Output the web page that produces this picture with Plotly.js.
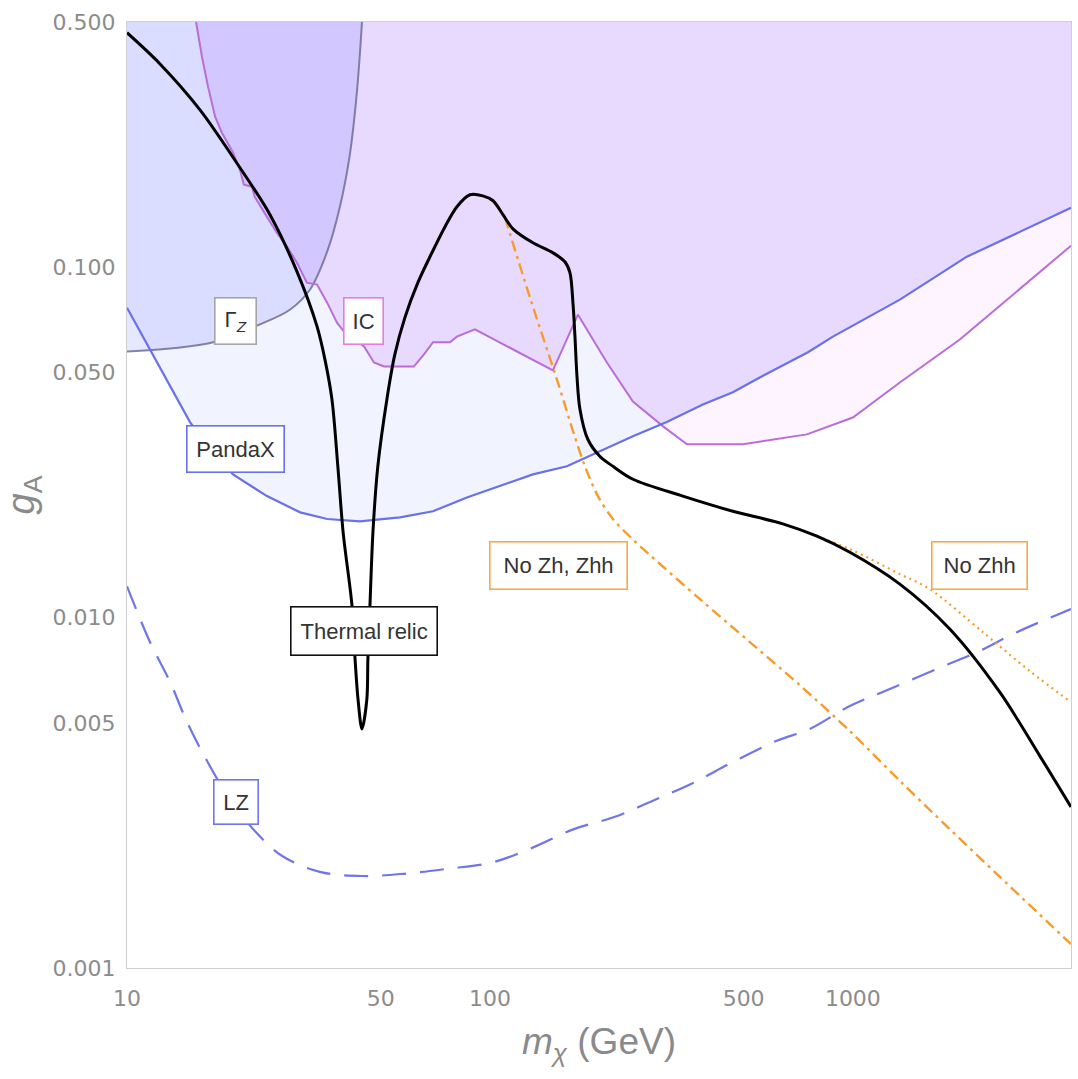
<!DOCTYPE html>
<html>
<head>
<meta charset="utf-8">
<script src="https://cdn.plot.ly/plotly-3.0.1.min.js"></script>
<style>
  html, body { margin: 0; padding: 0; background: #ffffff; }
  #chart { width: 1078px; height: 1079px; }
</style>
</head>
<body>
<div id="chart"></div>
<script>
// Dark-matter mass m_chi (GeV) and axial coupling g_A for each curve.

// Thermal relic abundance curve
const relicMass = [10, 12.33, 15.89, 20.48, 24.77, 29.4, 33.4, 35.1, 36.7, 38.1, 39.4, 41.7, 42.5, 43.3, 44.4,
  45.8, 46.1, 46.7, 47.6, 49.1, 52.0, 54.7, 58.3, 63.3, 69.2, 75.2, 81.1, 88.1, 95.6, 102, 108.6, 115.7, 131.4, 149.1, 160.9, 166.1, 169.3,
  171.5, 173.7, 177, 186.2, 201, 218.2, 247.7, 340, 467, 641, 796, 981, 1347, 1849, 2540, 3273, 3990];
const relicCoupling = [0.466, 0.3796, 0.2807, 0.1919, 0.1410, 0.0970, 0.0676, 0.0545, 0.0419, 0.0270, 0.0175, 0.01076, 0.0076, 0.00585, 0.00481,
  0.00585, 0.0076, 0.01076, 0.0175, 0.0270, 0.0419, 0.0563, 0.0717, 0.0902, 0.1098, 0.1303, 0.1486, 0.1607, 0.1595, 0.1545, 0.141, 0.1285, 0.1172, 0.1098, 0.1035, 0.0964, 0.0791,
  0.0633, 0.0488, 0.0393, 0.0322, 0.0288, 0.0270, 0.0248, 0.0222, 0.0201, 0.0185, 0.01706, 0.01535, 0.01245, 0.00927, 0.00612, 0.00403, 0.00288];

// Relic curve without Zh and Zhh final states
const noZhZhhMass = [110, 128.9, 152.9, 171.5, 182.7, 198.4, 218.2, 247.7, 276, 379, 520, 714, 981, 1347, 1849, 2540, 3990];
const noZhZhhCoupling = [0.1385, 0.0818, 0.0478, 0.0327, 0.0270, 0.0222, 0.0191, 0.0167, 0.01507, 0.01128, 0.00851, 0.00641, 0.00474, 0.00342, 0.00249, 0.00182, 0.00117];

// Relic curve without Zhh final state
const noZhhMass = [714, 981, 1347, 1629, 2281, 3073, 3990];
const noZhhCoupling = [0.0178, 0.01567, 0.0133, 0.01205, 0.00908, 0.00703, 0.00574];

// PandaX exclusion limit
const pandaxMass = [10, 11.57, 13.73, 14.91, 16.93, 19.59, 24.3, 30.0, 35.6, 43.8, 56.5, 69.7, 86.4, 106.5, 131.4, 163, 201, 247.7, 307, 386, 467, 554, 752, 881, 1347, 2061, 3990];
const pandaxCoupling = [0.0765, 0.0582, 0.0419, 0.0361, 0.0302, 0.0256, 0.0222, 0.01995, 0.0191, 0.0188, 0.0193, 0.0201, 0.0220, 0.0237, 0.0256, 0.0270, 0.0298, 0.0329, 0.0361, 0.0405, 0.0439, 0.0484, 0.0571, 0.0633, 0.0807, 0.107, 0.1475];

// LZ projected sensitivity
const lzMass = [10, 11.57, 13.14, 14.63, 16.61, 19.2, 22.5, 26.7, 34.0, 44.7, 58.7, 76.6, 101.3, 130.5, 170.4, 221, 281, 358, 467, 617, 761, 981, 1265, 1704, 2196, 2830, 3990];
const lzCoupling = [0.01227, 0.00851, 0.00655, 0.00504, 0.0039, 0.00303, 0.00246, 0.00209, 0.00188, 0.00183, 0.00186, 0.00192, 0.0020, 0.0022, 0.00249, 0.0027, 0.0030, 0.00335, 0.00387, 0.00445, 0.00481, 0.00559, 0.00625, 0.00713, 0.00796, 0.00908, 0.01057];

// Invisible Z width bound
const gammaZMass = [10, 13.14, 17.5, 23.25, 28.1, 31.9, 35.6, 38.6, 41.1, 42.8, 43.8, 44.4];
const gammaZCoupling = [0.0574, 0.0585, 0.0612, 0.0686, 0.0755, 0.0861, 0.1106, 0.1486, 0.209, 0.300, 0.403, 0.5];

// IceCube bound
const icMass = [15.5, 16.09, 16.72, 17.5, 18.26, 19.6, 20.48, 21.0, 22.1, 22.5, 24.3, 25.9, 27.6, 29.4, 31.3, 33.4, 35.6, 37.9, 39.6, 45.0, 47.9, 51.1,
  61.7, 65.8, 69.7, 77.6, 81.1, 90.9, 149.1, 174.8, 210, 247.7, 300, 349, 498, 747, 1000, 1347, 1971, 3990];
const icCoupling = [0.5, 0.398, 0.327, 0.268, 0.2416, 0.212, 0.189, 0.1717, 0.1695, 0.1584, 0.139, 0.125, 0.1143, 0.1028, 0.0902, 0.0891, 0.0791, 0.0694, 0.0654, 0.0593, 0.0534, 0.052,
  0.052, 0.0563, 0.061, 0.061, 0.0633, 0.0664, 0.0507, 0.0731, 0.0534, 0.0413, 0.0351, 0.0312, 0.0312, 0.0333, 0.0372, 0.0468, 0.0621, 0.115];

// Axis ticks
const xTickVals = [10, 50, 100, 500, 1000];
const xTickText = ['10', '50', '100', '500', '1000'];
const yTickVals = [0.001, 0.005, 0.01, 0.05, 0.1, 0.5];
const yTickText = ['0.001', '0.005', '0.010', '0.050', '0.100', '0.500'];

const X_MIN = 10, X_MAX = 3990, Y_MIN = 0.001, Y_MAX = 0.5;
// Far corners beyond the frame, used to close shaded regions (clipped away)
const X_OUT = 5, Y_OUT = 2;

// ---- helpers (log-log polylines) ----
const L = Math.log10;
function evalLogLog(xs, ys, x) {
  const lx = L(x);
  for (let i = 0; i < xs.length - 1; i++) {
    const a = L(xs[i]), b = L(xs[i + 1]);
    if (lx >= a && lx <= b) {
      const t = b === a ? 0 : (lx - a) / (b - a);
      return Math.pow(10, L(ys[i]) + t * (L(ys[i + 1]) - L(ys[i])));
    }
  }
  return lx < L(xs[0]) ? ys[0] : ys[ys.length - 1];
}
// Upper envelope of two polylines over [x0, x1], with exact crossings.
function upperEnvelope(xa, ya, xb, yb, x0, x1) {
  let grid = xa.concat(xb).filter(v => v >= x0 && v <= x1);
  grid.push(x0, x1);
  grid = Array.from(new Set(grid)).sort((p, q) => p - q);
  const ox = [], oy = [];
  for (let i = 0; i < grid.length; i++) {
    const fa = L(evalLogLog(xa, ya, grid[i])), fb = L(evalLogLog(xb, yb, grid[i]));
    ox.push(grid[i]); oy.push(Math.pow(10, Math.max(fa, fb)));
    if (i < grid.length - 1) {
      const ga = L(evalLogLog(xa, ya, grid[i + 1])), gb = L(evalLogLog(xb, yb, grid[i + 1]));
      const d0 = fa - fb, d1 = ga - gb;
      if (d0 * d1 < 0) {
        const t = d0 / (d0 - d1);
        const lx = L(grid[i]) + t * (L(grid[i + 1]) - L(grid[i]));
        ox.push(Math.pow(10, lx)); oy.push(Math.pow(10, fa + t * (ga - fa)));
      }
    }
  }
  return { x: ox, y: oy };
}
function regionAbove(xs, ys) {
  const x = xs.slice(), y = ys.slice();
  x.push(xs[xs.length - 1], xs[0]);
  y.push(Y_MAX, Y_MAX);
  return { x, y };
}

// ---- colours ----
const cPandaLine = 'rgb(105,112,236)';
const cLZ = 'rgb(112,118,232)';
const cICLine = 'rgb(186,108,216)';
const cGZLine = 'rgba(110,110,150,0.85)';
const cOrange = 'rgb(247,156,42)';

const icRegion = regionAbove(icMass, icCoupling);
const pandaRegion = regionAbove(pandaxMass, pandaxCoupling);
const env = upperEnvelope(icMass, icCoupling, pandaxMass, pandaxCoupling, icMass[0], X_MAX);
const bothRegion = regionAbove(env.x, env.y);
// Gamma_Z region: smooth boundary, closed through corners outside the frame
const gzRegion = {
  x: [X_OUT].concat(gammaZMass, [gammaZMass[gammaZMass.length - 1], X_OUT]),
  y: [gammaZCoupling[0]].concat(gammaZCoupling, [Y_OUT, Y_OUT])
};

const fillTrace = (r, color, shape) => ({
  x: r.x, y: r.y, type: 'scatter', mode: 'lines', fill: 'toself',
  fillcolor: color, line: { width: 0, color: 'rgba(0,0,0,0)', shape: shape || 'linear', smoothing: 1 },
  hoverinfo: 'skip', showlegend: false
});
const lineTrace = (x, y, color, width, dash, shape, smoothing) => ({
  x, y, type: 'scatter', mode: 'lines',
  line: { color, width, dash: dash || 'solid', shape: shape || 'linear', smoothing: smoothing || 1 },
  hoverinfo: 'skip', showlegend: false
});

const traces = [
  fillTrace(icRegion, 'rgb(253,244,255)'),
  fillTrace(pandaRegion, 'rgb(241,243,255)'),
  fillTrace(bothRegion, 'rgb(232,218,255)'),
  fillTrace(gzRegion, 'rgba(90,100,255,0.15)', 'spline'),
  lineTrace(gammaZMass, gammaZCoupling, cGZLine, 2, 'solid', 'spline', 1),
  lineTrace(icMass, icCoupling, cICLine, 2),
  lineTrace(pandaxMass, pandaxCoupling, cPandaLine, 2.2),
  lineTrace(lzMass, lzCoupling, cLZ, 2.2, '24px,14px', 'spline', 1),
  lineTrace(noZhhMass, noZhhCoupling, cOrange, 2.2, '2px,4px', 'spline', 0.9),
  lineTrace(noZhZhhMass, noZhZhhCoupling, cOrange, 2.4, '11px,5px,3px,5px', 'spline', 0.9),
  lineTrace(relicMass, relicCoupling, '#000000', 3, 'solid', 'spline', 0.9)
];

// Boxed curve labels
const labelFont = { family: 'Liberation Sans, Arial, sans-serif', size: 22, color: '#333333' };
function boxLabel(text, mass, coupling, border, w, h) {
  return {
    text, x: L(mass), y: L(coupling), xref: 'x', yref: 'y', showarrow: false,
    font: labelFont, bgcolor: '#ffffff', bordercolor: border, borderwidth: 1.6, borderpad: 0,
    width: w, height: h, align: 'center', valign: 'middle', xanchor: 'center', yanchor: 'middle'
  };
}
const annotations = [
  boxLabel('Γ<sub><i>Z</i></sub>', 19.95, 0.0703, 'rgb(165,165,165)', 40, 45),
  boxLabel('IC', 44.7, 0.0703, 'rgb(226,125,226)', 38, 45),
  boxLabel('PandaX', 19.95, 0.0303, cPandaLine, 96, 45),
  boxLabel('Thermal relic', 45.0, 0.00914, '#111111', 145, 47),
  boxLabel('LZ', 19.95, 0.00298, cLZ, 43, 43),
  boxLabel('No Zh, Zhh', 154.9, 0.01409, 'rgb(245,172,72)', 136, 46),
  boxLabel('No Zhh', 2239, 0.01409, 'rgb(245,172,72)', 94, 46)
];

const tickFont = { family: 'DejaVu Sans, sans-serif', size: 22, color: '#8c8c8c' };
const layout = {
  width: 1078, height: 1079,
  margin: { l: 127, r: 7, t: 22, b: 111, pad: 0 },
  paper_bgcolor: '#ffffff', plot_bgcolor: '#ffffff',
  showlegend: false,
  xaxis: {
    type: 'log', range: [L(X_MIN), L(X_MAX)],
    tickvals: xTickVals, ticktext: xTickText, tickfont: tickFont,
    ticks: '', ticklabelstandoff: 10,
    showgrid: false, zeroline: false,
    showline: true, mirror: true, linecolor: '#cfcfcf', linewidth: 1.2,
    title: { text: '<i>m</i><sub><i>χ</i></sub> (GeV)', font: { family: 'Liberation Sans, Arial, sans-serif', size: 37, color: '#8a8a8a' }, standoff: 18 }
  },
  yaxis: {
    type: 'log', range: [L(Y_MIN), L(Y_MAX)],
    tickvals: yTickVals, ticktext: yTickText, tickfont: tickFont,
    ticks: '', ticklabelstandoff: 6,
    showgrid: false, zeroline: false,
    showline: true, mirror: true, linecolor: '#cfcfcf', linewidth: 1.2,
    title: { text: '<i>g</i><sub>A</sub>', font: { family: 'Liberation Sans, Arial, sans-serif', size: 38, color: '#8a8a8a' }, standoff: 14 }
  },
  annotations
};

Plotly.newPlot('chart', traces, layout, { staticPlot: true, displayModeBar: false });
</script>
</body>
</html>
